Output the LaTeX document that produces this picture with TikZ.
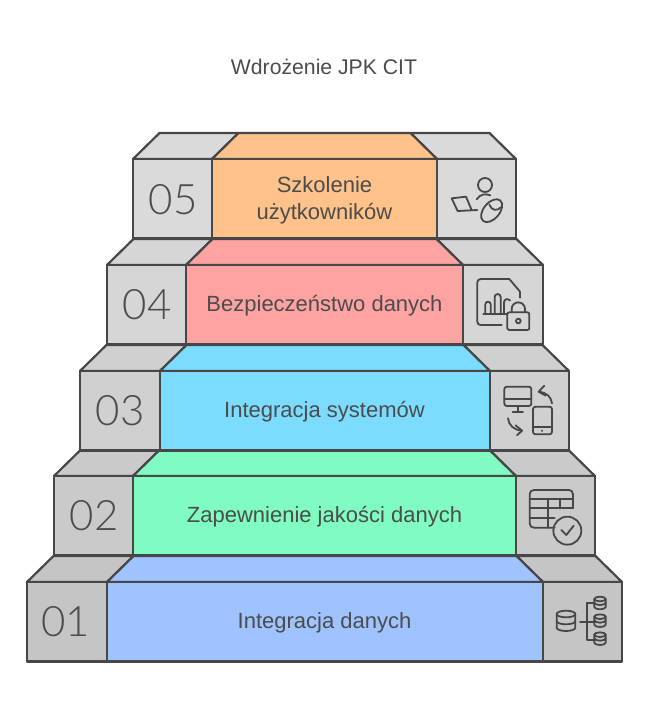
\documentclass[tikz,border=0pt]{standalone}
\usepackage{fontspec}
\setmainfont{Liberation Sans}
\newfontfamily\numfont{Lato Light}
\definecolor{ink}{HTML}{474747}
\definecolor{txt}{HTML}{4C4C4C}
\definecolor{g5}{HTML}{DADADA}
\definecolor{g4}{HTML}{D6D6D6}
\definecolor{g3}{HTML}{D0D0D0}
\definecolor{g2}{HTML}{CACACA}
\definecolor{g1}{HTML}{C5C5C5}
\definecolor{c5}{HTML}{FEC28A}
\definecolor{c4}{HTML}{FFA2A2}
\definecolor{c3}{HTML}{7BDCFF}
\definecolor{c2}{HTML}{80FCC2}
\definecolor{c1}{HTML}{9FC3FF}
\tikzset{
  x=1pt,y=-1pt,
  face/.style={draw=ink,line width=2.2pt,line join=round},
  lbl/.style={text=txt,font=\fontsize{22}{27}\selectfont,align=center,inner sep=0pt},
  num/.style={text=txt,font=\fontsize{42}{50}\numfont,inner sep=0pt},
  ttl/.style={text=txt,font=\fontsize{21.2}{26}\selectfont,inner sep=0pt},
  ico/.style={draw=ink,line width=1.8pt,line cap=round,line join=round,fill=none},
  icobox/.style={shift={#1},x=0.33333pt,y=-0.33333pt},
}
\newcommand{\stepface}[6]{%
  \path[face,fill=g#6] (#1,#5) -- (#1+26.5,#5-26) -- (#2+26.5,#5-26) -- (#2,#5) -- cycle;
  \path[face,fill=g#6] (#3,#5) -- (#3-26.5,#5-26) -- (#4-26.5,#5-26) -- (#4,#5) -- cycle;
  \path[face,fill=c#6] (#2,#5) -- (#2+26.5,#5-26) -- (#3-26.5,#5-26) -- (#3,#5) -- cycle;
  \path[face,fill=g#6] (#1,#5) rectangle (#2,#5+79.5);
  \path[face,fill=g#6] (#3,#5) rectangle (#4,#5+79.5);
  \path[face,fill=c#6] (#2,#5) rectangle (#3,#5+79.5);
}
\newcommand{\smallcyl}[1]{%
  \draw[ico] (150,#1) ellipse [x radius=17,y radius=7];
  \draw[ico] (133,#1) -- (133,#1+24) arc[start angle=180,end angle=0,x radius=17,y radius=7] -- (167,#1);
  \draw[ico] (133,#1+11) arc[start angle=180,end angle=0,x radius=17,y radius=7];
}
\begin{document}
\begin{tikzpicture}
\useasboundingbox (0,0) rectangle (650,716);
\fill[white] (0,0) rectangle (650,716);
\stepface{27}{107}{543}{622}{582}{1}
\stepface{54}{133}{516}{595}{476}{2}
\stepface{80}{160}{490}{569}{371}{3}
\stepface{107}{186}{463}{543}{265}{4}
\stepface{133}{212}{437}{516}{159}{5}
\node[ttl] (title) at (324,66.5) {Wdrożenie JPK CIT};
\node[lbl] (t5) at (324.5,200.5) {Szkolenie\\użytkowników};
\node[lbl] (t4) at (324.5,305.5) {Bezpieczeństwo danych};
\node[lbl] (t3) at (324.5,411.5) {Integracja systemów};
\node[lbl] (t2) at (324.5,516.5) {Zapewnienie jakości danych};
\node[lbl] (t1) at (324.5,622.5) {Integracja danych};
\node[num] (n5) at (173,199.5) {05};
\node[num] (n4) at (147,305) {04};
\node[num] (n3) at (120,410.5) {03};
\node[num] (n2) at (94,516) {02};
\node[num] (n1) at (65.5,621.5) {01};
% icon 05: person, laptop, mouse
\begin{scope}[icobox={(445,170)}]
  \draw[ico] (120,45) circle[radius=21];
  \draw[ico] (95,88) .. controls (105,72) and (122,70) .. (136,76);
  \draw[ico] (97,120) -- (38,123) -- (20,85) -- (63,80) -- (80,120);
  \draw[ico,rotate around={50:(140,122)}] (140,122) ellipse [x radius=40,y radius=24];
  \draw[ico] (133,104) .. controls (140,122) and (155,124) .. (168,112);
\end{scope}
% icon 04: document, chart, lock
\begin{scope}[icobox={(470,275)}]
  \draw[ico] (150,68) -- (150,50) -- (118,12) -- (33,12) .. controls (26,12) and (22,16) .. (22,22) -- (22,140) .. controls (22,147) and (26,150) .. (33,150) -- (95,150);
  \draw[ico] (40,118) -- (110,118);
  \draw[ico] (46,118) -- (46,88) arc[start angle=180,end angle=360,radius=8] -- (62,118);
  \draw[ico] (74,118) -- (74,66) arc[start angle=180,end angle=360,radius=9] -- (92,118);
  \draw[ico] (102,118) -- (102,82) .. controls (103,72) and (112,70) .. (120,76);
  \draw[ico,rounded corners=2pt] (112,112) rectangle (178,165);
  \draw[ico] (125,112) -- (125,102) arc[start angle=180,end angle=360,radius=20] -- (165,112);
  \draw[ico] (145,138) circle[radius=7];
\end{scope}
% icon 03: monitor, phone, arrows
\begin{scope}[icobox={(497,380)}]
  \draw[ico,rounded corners=2.5pt] (22,20) rectangle (103,78);
  \draw[ico] (22,58) -- (103,58);
  \draw[ico] (62,78) -- (62,95);
  \draw[ico] (47,95) -- (78,95);
  \draw[ico,rounded corners=2.5pt] (108,80) rectangle (165,163);
  \draw[ico] (108,140) -- (165,140);
  \fill[ink] (135,152) circle[radius=3.5];
  \draw[ico] (165,70) .. controls (162,50) and (150,38) .. (125,35);
  \draw[ico] (142,17) -- (125,35) -- (146,47);
  \draw[ico] (33,115) .. controls (35,135) and (50,150) .. (75,152);
  \draw[ico] (56,136) -- (75,152) -- (60,166);
\end{scope}
% icon 02: table with check
\begin{scope}[icobox={(523,485)}]
  \draw[ico] (150,70) -- (150,28) .. controls (150,20) and (145,15) .. (138,15) -- (33,15) .. controls (25,15) and (20,20) .. (20,28) -- (20,115) .. controls (20,123) and (25,128) .. (33,128) -- (95,128);
  \draw[ico] (20,42) -- (150,42);
  \draw[ico] (20,70) -- (150,70);
  \draw[ico] (20,98) -- (95,98);
  \draw[ico] (75,42) -- (75,128);
  \draw[ico] (112,42) -- (112,70);
  \draw[ico] (133,137) circle[radius=42];
  \draw[ico] (115,135) -- (130,150) -- (152,122);
\end{scope}
% icon 01: databases
\begin{scope}[icobox={(550,590)}]
  \draw[ico] (48,72) ellipse [x radius=28,y radius=10];
  \draw[ico] (20,72) -- (20,113) arc[start angle=180,end angle=0,x radius=28,y radius=10] -- (76,72);
  \draw[ico] (20,93) arc[start angle=180,end angle=0,x radius=28,y radius=10];
  \draw[ico] (90,95) -- (132,95);
  \draw[ico] (132,38) -- (110,38) -- (110,150) -- (132,150);
  \smallcyl{27}
  \smallcyl{80}
  \smallcyl{134}
\end{scope}
\end{tikzpicture}
\end{document}
